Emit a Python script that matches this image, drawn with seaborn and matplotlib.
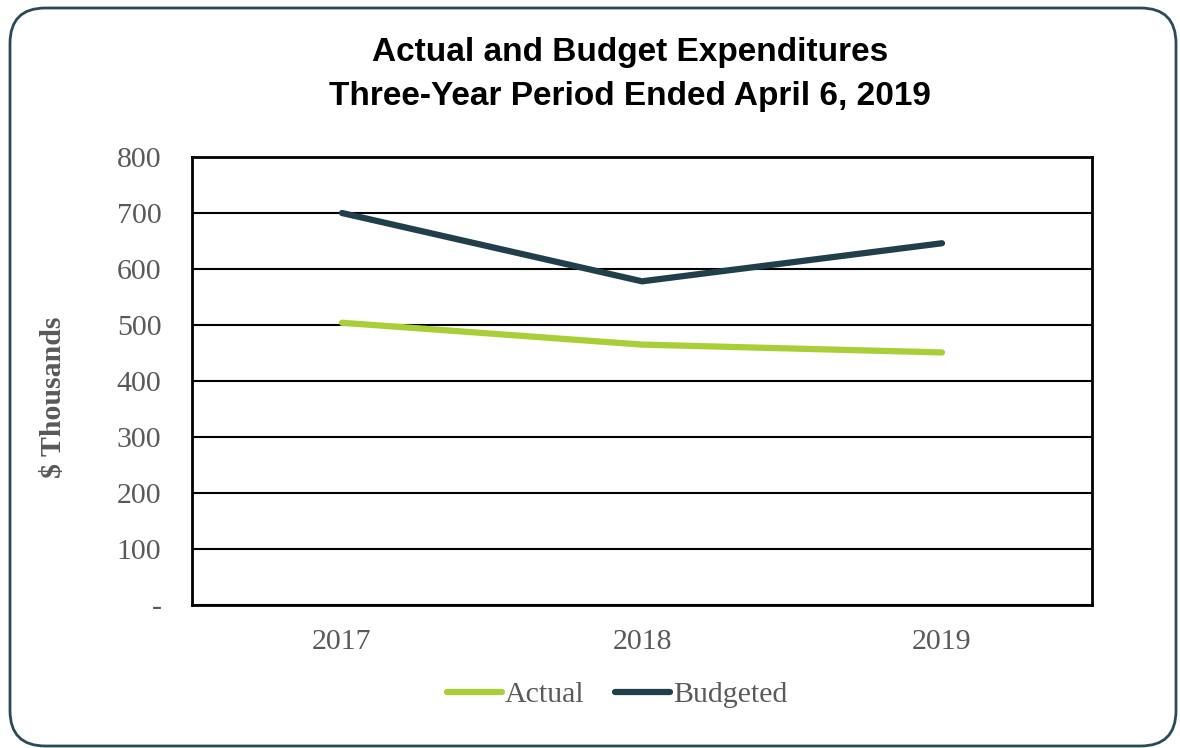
import matplotlib
matplotlib.use("Agg")
import matplotlib.pyplot as plt
import seaborn as sns
import pandas as pd
from matplotlib.patches import FancyBboxPatch
from matplotlib.lines import Line2D

years = ["2017", "2018", "2019"]
actual = [504, 465, 451]
budgeted = [700, 578, 646]
series_names = ["Actual", "Budgeted"]
y_ticks = [0, 100, 200, 300, 400, 500, 600, 700, 800]
y_tick_labels = ["-", "100", "200", "300", "400", "500", "600", "700", "800"]

colors = {"Actual": "#A9CF38", "Budgeted": "#213E4B"}

df = pd.DataFrame({
    "Year": years * 2,
    "Value": actual + budgeted,
    "Series": [series_names[0]] * 3 + [series_names[1]] * 3,
})

sns.set_theme(style="white")
plt.rcParams["font.family"] = ["Liberation Serif", "DejaVu Serif"]

fig = plt.figure(figsize=(11.8, 7.48), dpi=100)
ax = fig.add_axes([192 / 1180, 1 - 605 / 748, 900 / 1180, 448 / 748])

sns.lineplot(data=df, x="Year", y="Value", hue="Series", palette=colors,
             linewidth=4.5, ax=ax, legend=False, sort=False,
             solid_capstyle="round")

ax.set_xlim(-0.5, 2.5)
ax.set_ylim(0, 800)
ax.set_yticks(y_ticks)
ax.set_yticklabels(y_tick_labels)
ax.yaxis.grid(True, color="black", linewidth=1.5)
ax.xaxis.grid(False)
ax.set_axisbelow(True)
for s in ax.spines.values():
    s.set_visible(True)
    s.set_color("black")
    s.set_linewidth(2)
ax.tick_params(axis="both", length=0, labelsize=21.5, labelcolor="#595959")
ax.tick_params(axis="y", pad=22)
ax.tick_params(axis="x", pad=17)
ax.set_xlabel("")
ax.set_ylabel("$ Thousands", fontsize=21.5, fontweight="bold", color="#595959",
              labelpad=36)
ax.yaxis.label.set_y(0.5 - 16 / 448)

fig.text(0.534, 1 - 52 / 748, "Actual and Budget Expenditures",
         ha="center", va="center", fontsize=24, fontweight="bold",
         family=["Liberation Sans", "DejaVu Sans"], color="black")
fig.text(0.534, 1 - 97 / 748, "Three-Year Period Ended April 6, 2019",
         ha="center", va="center", fontsize=24, fontweight="bold",
         family=["Liberation Sans", "DejaVu Sans"], color="black")

handles = [Line2D([0], [0], color=colors[n], linewidth=4.5, solid_capstyle="round")
           for n in series_names]
fig.legend(handles, series_names, loc="center", bbox_to_anchor=(617 / 1180, 1 - 695 / 748),
           ncol=2, frameon=False, fontsize=21.5, labelcolor="#595959",
           handlelength=1.85, handletextpad=0.1, columnspacing=1.0)

frame = FancyBboxPatch((10 / 1180, 1 - 746 / 748), 1166 / 1180, 738 / 748,
                       boxstyle="round,pad=0,rounding_size=0.03",
                       transform=fig.transFigure, fill=False,
                       edgecolor="#2B4A58", linewidth=2, mutation_aspect=1180 / 748)
fig.patches.append(frame)

fig.savefig("out.png", dpi=100)
